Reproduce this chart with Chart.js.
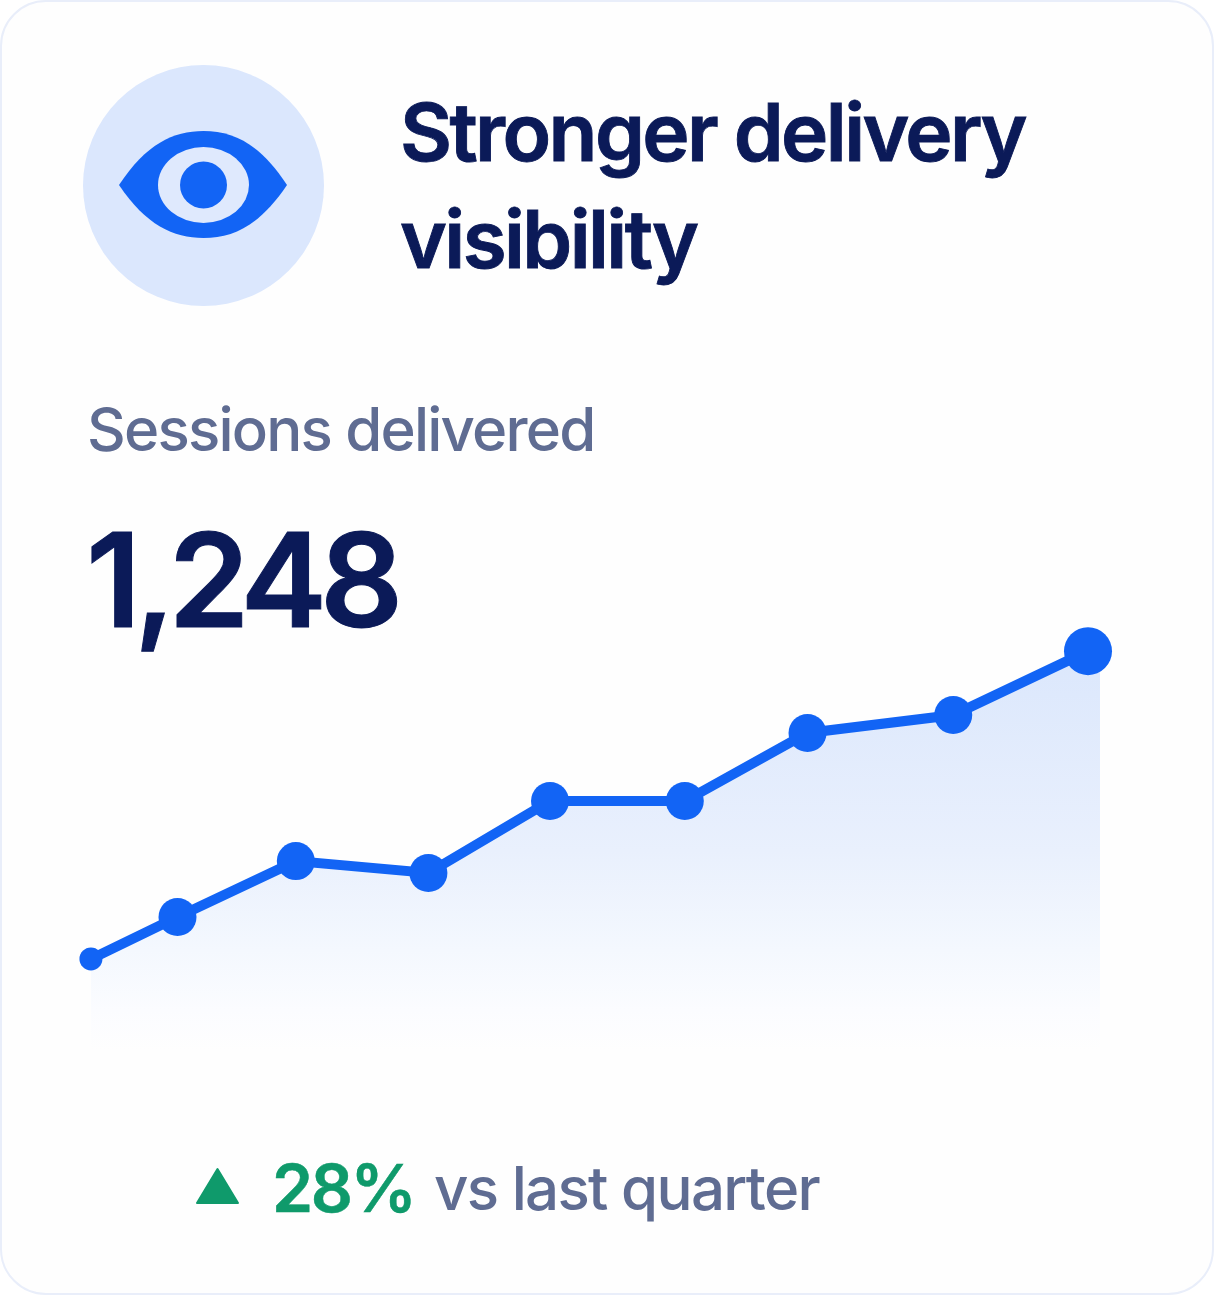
<!DOCTYPE html>
<html>
<head>
<meta charset="utf-8">
<title>Stronger delivery visibility</title>
<script src="https://cdn.jsdelivr.net/npm/chart.js@4/dist/chart.umd.min.js"></script>
<style>
  html, body { margin: 0; padding: 0; background: #fff; }
  body { width: 1214px; height: 1295px; overflow: hidden; position: relative; font-family: Inter, sans-serif; }
  .card { position: absolute; left: 0; top: 0; width: 1214px; height: 1295px; box-sizing: border-box;
          background: #fefefe; border: 2px solid #e9eefa; border-radius: 46px; }
  .txt { position: absolute; white-space: nowrap; }
  #icon { position: absolute; left: 83px; top: 65px; }
  #title { left: 400px; top: 78px; font-size: 80px; line-height: 107px; font-weight: 600; color: #0b1a58; letter-spacing: -2.6px; -webkit-text-stroke: 0.9px #0b1a58; }
  #label { left: 87px; top: 393px; font-size: 60px; line-height: 72px; font-weight: 500; color: #5f6c92; letter-spacing: -1.8px; }
  #big { left: 86px; top: 510px; font-size: 130px; line-height: 140px; font-weight: 600; color: #0b1a58; letter-spacing: -7px; -webkit-text-stroke: 1px #0b1a58; }
  #arrow { position: absolute; left: 194px; top: 1166px; }
  #pct { left: 272px; top: 1150px; font-size: 66px; line-height: 76px; font-weight: 600; color: #0f9a6b; letter-spacing: -2.4px; -webkit-text-stroke: 0.5px #0f9a6b; }
  #versus { left: 434px; top: 1152px; font-size: 60px; line-height: 72px; font-weight: 500; color: #5f6c92; letter-spacing: -1.7px; }
  #chartBox { position: absolute; left: 0; top: 600px; width: 1214px; height: 450px; }
</style>
</head>
<body>
<div class="card"></div>

<svg id="icon" width="241" height="241" viewBox="0 0 241 241">
  <circle cx="120.5" cy="120.5" r="120.5" fill="#dbe7fd"/>
  <path d="M36 120 C 63 79 90 66 120.5 66 C 151 66 177 79 204 120 C 177 160 151 173 120.5 173 C 90 173 63 160 36 120 Z" fill="#1264f5"/>
  <ellipse cx="120.5" cy="120" rx="45.5" ry="38" fill="#dfe9fd"/>
  <circle cx="120.5" cy="120" r="23.5" fill="#1264f5"/>
</svg>

<div class="txt" id="title">Stronger delivery<br>visibility</div>
<div class="txt" id="label">Sessions delivered</div>
<div class="txt" id="big">1,248</div>

<div id="chartBox"><canvas id="chartCanvas"></canvas></div>

<svg id="arrow" width="47" height="40" viewBox="0 0 47 40">
  <polygon points="23.5,3 44,37 3,37" fill="#0f9a6b" stroke="#0f9a6b" stroke-width="2" stroke-linejoin="round"/>
</svg>
<div class="txt" id="pct">28%</div>
<div class="txt" id="versus">vs last quarter</div>

<script>
// days into the quarter and cumulative sessions
const sessionDays = [0, 7.9, 18.7, 30.8, 41.9, 54.2, 65.4, 78.7, 91];
const sessions = [285, 416, 591, 554, 779, 779, 992, 1048, 1248];

// the shaded area runs on a little past the last marker
const areaDays = [...sessionDays, 92.1];
const areaSessions = [...sessions, 1268];

const BLUE = '#1264f5';
const chartCanvas = document.getElementById('chartCanvas');

function areaGradient(context) {
    const { ctx, chartArea, scales } = context.chart;
    if (!chartArea) return '#dbe7fd';
    const gradient = ctx.createLinearGradient(0, scales.y.getPixelForValue(1248), 0, scales.y.getPixelForValue(0));
    gradient.addColorStop(0, '#dbe7fc');
    gradient.addColorStop(0.5, '#e9f0fd');
    gradient.addColorStop(0.75, '#f4f8fe');
    gradient.addColorStop(0.9, '#fbfcff');
    gradient.addColorStop(1, '#fefefe');
    return gradient;
}

function toPoints(xs, ys) {
    return xs.map((x, i) => ({ x: x, y: ys[i] }));
}

new Chart(chartCanvas, {
    type: 'line',
    data: {
        datasets: [
            {
                label: 'Sessions delivered',
                data: toPoints(sessionDays, sessions),
                borderColor: BLUE,
                borderWidth: 10,
                backgroundColor: BLUE,
                pointBackgroundColor: BLUE,
                pointBorderWidth: 0,
                pointRadius: (c) => c.dataIndex === 0 ? 11.5 : c.dataIndex === sessions.length - 1 ? 24 : 19,
                tension: 0,
                fill: false,
                clip: false,
                order: 1
            },
            {
                label: 'area',
                data: toPoints(areaDays, areaSessions),
                borderWidth: 0,
                pointRadius: 0,
                backgroundColor: areaGradient,
                tension: 0,
                fill: 'origin',
                order: 2
            }
        ]
    },
    options: {
        responsive: true,
        maintainAspectRatio: false,
        animation: false,
        layout: { padding: 0, autoPadding: false },
        plugins: { legend: { display: false }, tooltip: { enabled: false } },
        scales: {
            x: { type: 'linear', min: -8.3, max: 102.5, display: false },
            y: { min: 0, max: 1408, display: false }
        }
    }
});
</script>
</body>
</html>
